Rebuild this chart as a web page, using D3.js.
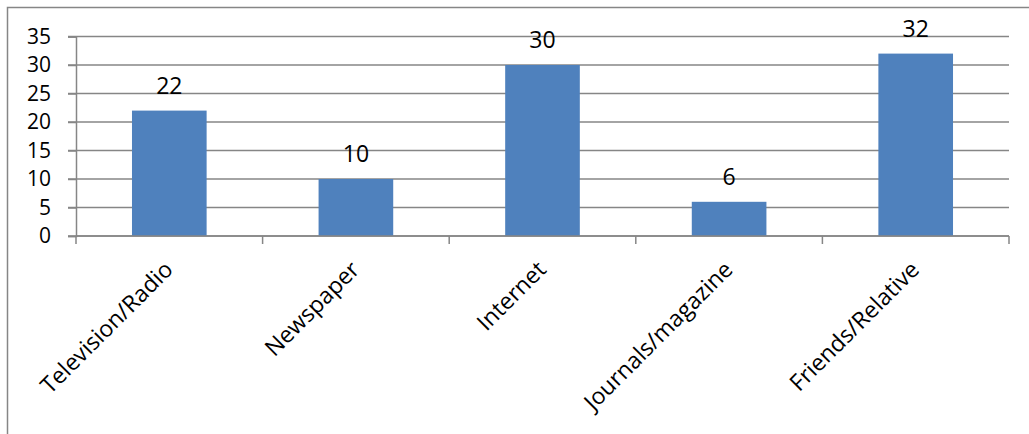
<!DOCTYPE html>
<html>
<head>
<meta charset="utf-8">
<script src="https://cdn.jsdelivr.net/npm/d3@7"></script>
<style>
  html, body { margin: 0; padding: 0; background: #ffffff; }
  svg { display: block; }
  text { font-family: "Open Sans", "Liberation Sans", sans-serif; fill: #000; }
</style>
</head>
<body>
<svg id="chart" width="1029" height="434"></svg>
<script>
// Sources of information and how many respondents named each
const categories = ["Television/Radio", "Newspaper", "Internet", "Journals/magazine", "Friends/Relative"];
const values = [22, 10, 30, 6, 32];
const yTicks = [0, 5, 10, 15, 20, 25, 30, 35];

const svg = d3.select("#chart");
const W = 1029, H = 434;
const gridColor = "#868686";
const barColor = "#4f81bd";
const labelSize = 23;
const tickSize = 21;

// chart frame
svg.append("rect")
  .attr("x", 7.5).attr("y", 7.5)
  .attr("width", W + 20).attr("height", H + 20)
  .attr("fill", "none").attr("stroke", gridColor).attr("stroke-width", 1.5);

const plot = { left: 76, right: 1009, top: 36.5, bottom: 236 };

const x = d3.scaleBand()
  .domain(categories)
  .range([plot.left, plot.right])
  .padding(0);

const y = d3.scaleLinear()
  .domain([0, 35])
  .range([plot.bottom, plot.top]);

// horizontal gridlines, extended left into the tick marks
svg.append("g")
  .selectAll("line")
  .data(yTicks)
  .join("line")
  .attr("x1", plot.left - 8)
  .attr("x2", plot.right)
  .attr("y1", d => y(d))
  .attr("y2", d => y(d))
  .attr("stroke", gridColor)
  .attr("stroke-width", 1.5);

// y axis
const yAxis = d3.axisLeft(y).tickValues(yTicks).tickSize(8).tickPadding(17);
const gy = svg.append("g")
  .attr("transform", `translate(${plot.left},0)`)
  .call(yAxis);
gy.select(".domain").attr("stroke", gridColor).attr("stroke-width", 1.5);
gy.selectAll(".tick line").attr("stroke", gridColor).attr("stroke-width", 1.5);
gy.selectAll(".tick text")
  .attr("font-size", tickSize)
  .attr("font-family", "Open Sans, Liberation Sans, sans-serif")
  .attr("fill", "#000");

// bars
const barW = x.bandwidth() * 0.4;
svg.append("g")
  .selectAll("rect")
  .data(categories)
  .join("rect")
  .attr("x", (d) => x(d) + (x.bandwidth() - barW) / 2)
  .attr("width", barW)
  .attr("y", (d, i) => y(values[i]))
  .attr("height", (d, i) => y(0) - y(values[i]))
  .attr("fill", barColor);

// x axis with tick marks at category boundaries
const gx = svg.append("g");
gx.append("line")
  .attr("x1", plot.left).attr("x2", plot.right)
  .attr("y1", plot.bottom).attr("y2", plot.bottom)
  .attr("stroke", gridColor).attr("stroke-width", 1.5);
const bounds = categories.map(c => x(c)).concat([plot.right]);
gx.selectAll("line.tk")
  .data(bounds)
  .join("line")
  .attr("class", "tk")
  .attr("x1", d => d).attr("x2", d => d)
  .attr("y1", plot.bottom).attr("y2", plot.bottom + 8)
  .attr("stroke", gridColor).attr("stroke-width", 1.5);

// rotated category labels
svg.append("g")
  .selectAll("text")
  .data(categories)
  .join("text")
  .attr("transform", d => `translate(${x(d) + x.bandwidth() / 2 + 5},${plot.bottom + 35}) rotate(-45)`)
  .attr("text-anchor", "end")
  .attr("font-size", labelSize)
  .text(d => d);

// value labels above bars
svg.append("g")
  .selectAll("text")
  .data(categories)
  .join("text")
  .attr("x", d => x(d) + x.bandwidth() / 2)
  .attr("y", (d, i) => y(values[i]) - 17)
  .attr("text-anchor", "middle")
  .attr("font-size", labelSize)
  .text((d, i) => values[i]);
</script>
</body>
</html>
